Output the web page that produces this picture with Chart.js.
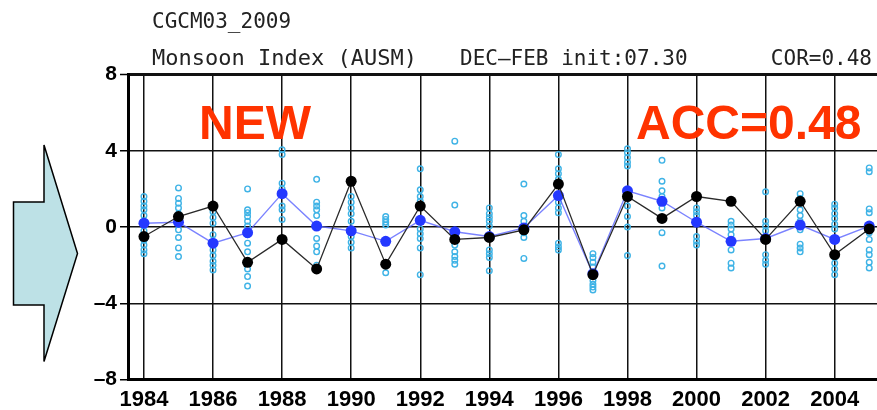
<!DOCTYPE html>
<html lang="en">
<head>
  <meta charset="UTF-8" />
  <title>CGCM03_2009 Monsoon Index (AUSM)</title>
  <script src="https://cdn.jsdelivr.net/npm/chart.js"></script>
  <style>
    body {
      margin: 0;
      background: #fff;
      overflow: hidden;
      width: 877px;
      height: 410px;
      position: relative;
    }
    #arrow { position: absolute; left: 0; top: 0; }
    #chart { position: absolute; left: 0; top: 0; }
  </style>
</head>
<body>
  <svg id="arrow" width="100" height="410">
    <polygon points="13.5,202 44,202 44,145 77.5,253.5 44,361.5 44,305 13.5,305"
             fill="#bde1e6" stroke="#000" stroke-width="1.5" />
  </svg>
  <canvas id="chart" width="892" height="410"></canvas>

  <script>
    // DEC-FEB AUSM index, 1984-2005
    const years = [1984, 1985, 1986, 1987, 1988, 1989, 1990, 1991, 1992, 1993, 1994,
                   1995, 1996, 1997, 1998, 1999, 2000, 2001, 2002, 2003, 2004, 2005];

    // observed index (black)
    const observed = [-0.5, 0.55, 1.1, -1.85, -0.65, -2.2, 2.4, -1.95, 1.1, -0.65, -0.55,
                      -0.15, 2.25, -2.5, 1.6, 0.45, 1.6, 1.35, -0.65, 1.35, -1.45, -0.1];

    // ensemble mean (blue)
    const ensMean = [0.2, 0.25, -0.85, -0.3, 1.75, 0.05, -0.2, -0.75, 0.35, -0.25, -0.5,
                     -0.05, 1.65, -2.45, 1.9, 1.35, 0.25, -0.75, -0.6, 0.1, -0.65, 0.05];

    // individual members (open circles), one list per year
    const members = [
      [1.6, 1.35, 1.1, 0.9, 0.6, 0.3, -0.2, -0.7, -0.95, -1.2, -1.4],
      [2.05, 1.5, 1.25, 1.0, 0.7, 0.2, -0.15, -0.55, -1.1, -1.55],
      [0.8, 0.5, 0.2, -0.4, -0.9, -1.2, -1.5, -1.8, -2.0, -2.25],
      [2.0, 0.9, 0.75, 0.55, 0.3, 0.05, -0.4, -0.85, -1.3, -2.2, -2.6, -3.1],
      [4.05, 3.8, 2.3, 2.0, 1.1, 0.9, 0.4],
      [2.5, 1.3, 1.1, 0.9, 0.6, -0.6, -1.0, -1.3, -2.0],
      [1.6, 1.3, 1.0, 0.7, 0.3, -0.1, -0.5, -0.8, -1.1],
      [0.55, 0.4, 0.25, 0.1, -0.7, -1.9, -2.4],
      [3.05, 1.95, 1.6, 1.35, 0.4, -0.1, -0.35, -0.6, -1.1, -2.5],
      [4.5, 1.15, -0.2, -0.65, -0.95, -1.3, -1.55, -1.75, -1.95],
      [1.0, 0.7, 0.5, 0.3, 0.05, -0.5, -1.2, -1.4, -1.6, -2.3],
      [2.25, 0.6, 0.3, -0.1, -0.3, -0.55, -1.65],
      [3.8, 3.05, 2.8, 2.5, 1.3, 1.0, 0.75, -0.85, -1.05, -1.2],
      [-1.4, -1.6, -1.85, -2.1, -2.5, -2.8, -3.0, -3.15, -3.3],
      [4.1, 3.9, 3.65, 3.4, 3.2, 1.1, 0.55, 0.0, -1.5],
      [3.5, 2.4, 1.9, 1.6, 1.0, -0.3, -2.05],
      [1.0, 0.8, 0.6, 0.3, -0.5, -0.75, -0.95],
      [0.3, 0.1, -0.1, -0.4, -1.2, -1.9, -2.15],
      [1.85, 0.3, 0.05, -0.2, -1.45, -1.75, -1.95],
      [1.75, 1.5, 0.9, 0.6, 0.3, -0.15, -0.9, -1.1, -1.3],
      [1.2, 1.0, 0.7, 0.45, 0.15, -0.1, -1.6, -1.9, -2.2, -2.5],
      [3.1, 2.9, 0.95, 0.75, -0.3, -0.65, -1.2, -1.45, -1.85, -2.15]
    ];

    const yTicks = [-8, -4, 0, 4, 8];
    const xTicks = [1984, 1986, 1988, 1990, 1992, 1994, 1996, 1998, 2000, 2002, 2004];

    const memberPoints = [];
    members.forEach((list, i) => list.forEach(v => memberPoints.push({ x: years[i], y: v })));

    const labelFont = '"Liberation Sans", Arial, sans-serif';

    // header lines and the two red captions
    const captions = {
      id: 'captions',
      afterDraw(chart) {
        const ctx = chart.ctx;
        ctx.save();
        ctx.fillStyle = '#222';
        ctx.textBaseline = 'alphabetic';
        ctx.textAlign = 'left';
        ctx.font = '21px "DejaVu Sans Mono", monospace';
        ctx.fillText('CGCM03_2009', 152, 28);
        ctx.fillText('DEC\u2013FEB init:07.30', 460, 65);
        ctx.font = '22px "DejaVu Sans Mono", monospace';
        ctx.fillText('Monsoon Index (AUSM)', 152, 65);
        ctx.font = '21px "DejaVu Sans Mono", monospace';
        ctx.textAlign = 'right';
        ctx.fillText('COR=0.48', 872, 65);

        ctx.fillStyle = '#ff3300';
        ctx.font = 'bold 48px "Liberation Sans", Arial, sans-serif';
        ctx.textAlign = 'left';
        ctx.fillText('NEW', 199, 138.5);
        ctx.fillText('ACC=0.48', 636, 138.5);
        ctx.restore();
      }
    };

    new Chart(document.getElementById('chart'), {
      type: 'scatter',
      data: {
        datasets: [
          {
            label: 'Observed',
            type: 'line',
            data: years.map((yr, i) => ({ x: yr, y: observed[i] })),
            borderColor: '#2a2a2a',
            borderWidth: 1.3,
            pointRadius: 5.5,
            pointBackgroundColor: '#000',
            pointBorderColor: '#000',
            pointBorderWidth: 0,
            order: 1
          },
          {
            label: 'Ensemble mean',
            type: 'line',
            data: years.map((yr, i) => ({ x: yr, y: ensMean[i] })),
            borderColor: 'rgba(90, 100, 255, 0.8)',
            borderWidth: 1.4,
            pointRadius: 5.5,
            pointBackgroundColor: '#2438ff',
            pointBorderColor: '#2438ff',
            pointBorderWidth: 0,
            order: 2
          },
          {
            label: 'Members',
            data: memberPoints,
            pointRadius: 2.8,
            pointBorderWidth: 1.4,
            pointBorderColor: '#3fb3e6',
            pointBackgroundColor: 'rgba(255,255,255,0)',
            order: 3
          }
        ]
      },
      options: {
        responsive: false,
        animation: false,
        layout: { padding: { top: 74.5, right: 4, bottom: 0, left: 0 } },
        plugins: { legend: { display: false }, tooltip: { enabled: false } },
        scales: {
          x: {
            type: 'linear',
            min: 1983.538,
            max: 2005.5,
            afterBuildTicks: scale => { scale.ticks = xTicks.map(v => ({ value: v })); },
            afterFit: scale => { scale.height = 30.5; },
            ticks: {
              callback: v => String(v),
              color: '#000',
              padding: 7,
              maxRotation: 0,
              autoSkip: false,
              font: { family: labelFont, size: 22, weight: 'bold' }
            },
            grid: { color: '#111', lineWidth: 1.5, drawTicks: false },
            border: { color: '#000', width: 3 }
          },
          y: {
            min: -8,
            max: 8,
            afterBuildTicks: scale => { scale.ticks = yTicks.map(v => ({ value: v })); },
            afterFit: scale => { scale.width = 128; },
            ticks: {
              callback: v => (v < 0 ? '\u2013' + Math.abs(v) : String(v)),
              color: '#000',
              padding: 3,
              font: { family: labelFont, size: 21, weight: 'bold' }
            },
            grid: {
              color: '#111',
              lineWidth: ctx => (ctx.tick && ctx.tick.value === 8 ? 3 : 1.5),
              tickColor: '#000',
              tickLength: 8,
              tickWidth: 1.5
            },
            border: { color: '#000', width: 3 }
          }
        }
      },
      plugins: [captions]
    });
  </script>
</body>
</html>
